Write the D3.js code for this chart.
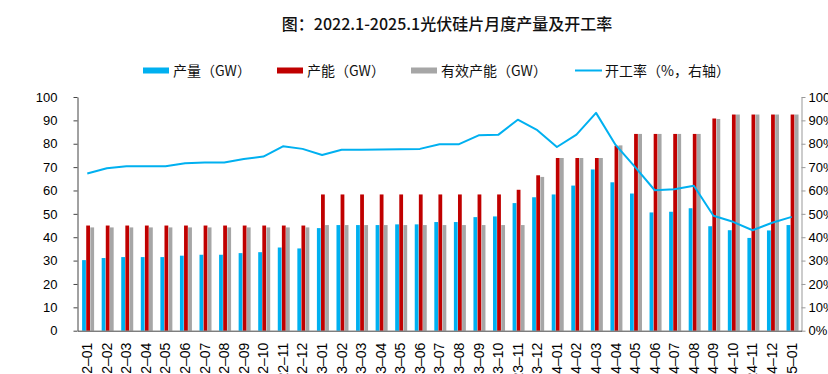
<!DOCTYPE html>
<html lang="zh">
<head>
<meta charset="utf-8">
<title>光伏硅片月度产量及开工率</title>
<script src="https://cdn.jsdelivr.net/npm/d3@7/dist/d3.min.js"></script>
<style>
  body { margin: 0; background: #fff; }
  svg text { font-family: "Liberation Sans", Arial, sans-serif; }
  .cjk { font-family: "Noto Sans CJK SC", sans-serif; }
</style>
</head>
<body>
<svg id="mainsvg" width="828" height="374"></svg>
<script>
  // 月份
  const months = ['2022–01','2022–02','2022–03','2022–04','2022–05','2022–06','2022–07','2022–08','2022–09','2022–10','2022–11','2022–12',
    '2023–01','2023–02','2023–03','2023–04','2023–05','2023–06','2023–07','2023–08','2023–09','2023–10','2023–11','2023–12',
    '2024–01','2024–02','2024–03','2024–04','2024–05','2024–06','2024–07','2024–08','2024–09','2024–10','2024–11','2024–12','2025–01'];
  // 产量（GW）
  const output = [30.2,31.1,31.5,31.5,31.5,32.1,32.5,32.5,33.2,33.6,35.6,35.2,
    43.9,45.2,45.2,45.2,45.5,45.5,46.5,46.5,48.6,48.9,54.6,57.1,
    58.3,62.1,69.0,63.5,58.7,50.6,50.9,52.4,44.7,43.0,39.7,42.9,45.2];
  // 产能（GW）
  const capacity = [45.0,45.0,45.0,45.0,45.0,45.0,45.0,45.0,45.0,45.0,45.0,45.0,
    58.3,58.3,58.3,58.3,58.3,58.3,58.3,58.3,58.3,58.3,60.3,66.5,
    73.9,73.9,73.9,79.1,84.2,84.2,84.2,84.2,90.8,92.5,92.5,92.5,92.5];
  // 有效产能（GW）
  const effCapacity = [44.2,44.2,44.2,44.2,44.2,44.2,44.2,44.2,44.2,44.2,44.2,44.2,
    45.2,45.2,45.2,45.2,45.2,45.2,45.2,45.2,45.2,45.2,45.2,65.8,
    73.9,73.9,73.9,79.3,84.2,84.2,84.2,84.2,90.6,92.5,92.5,92.5,92.5];
  // 开工率（%）
  const rate = [67.3,69.5,70.4,70.4,70.4,71.7,72.0,72.0,73.5,74.5,78.9,77.8,
    75.2,77.4,77.4,77.5,77.6,77.8,79.8,79.8,83.6,83.8,90.3,85.8,
    78.6,83.9,93.2,79.5,70.0,60.1,60.5,62.0,49.2,46.6,43.0,46.2,48.7];
  const leftTicks = [0,10,20,30,40,50,60,70,80,90,100];
  const rightTicks = ['0%','10%','20%','30%','40%','50%','60%','70%','80%','90%','100%'];

  const series = [
    { key: '产量（GW）', values: output, color: '#00B0F0' },
    { key: '产能（GW）', values: capacity, color: '#C00000' },
    { key: '有效产能（GW）', values: effCapacity, color: '#A6A6A6' }
  ];

  const svg = d3.select('#mainsvg');
  const plot = { left: 77.5, right: 801.5, top: 97, bottom: 330.7 };

  // 比例尺
  const x = d3.scaleBand().domain(months).range([plot.left, plot.right]);
  const xSub = d3.scaleBand().domain(series.map(s => s.key)).range([4.6, 16.6]).paddingInner(0.08);
  const y = d3.scaleLinear().domain([0, 100]).range([plot.bottom, plot.top]);
  const yR = d3.scaleLinear().domain([0, 100]).range([plot.bottom, plot.top]);

  // 标题
  svg.append('text').attr('class', 'cjk')
    .attr('x', 447).attr('y', 30)
    .attr('text-anchor', 'middle')
    .attr('font-size', 16).attr('font-weight', 500).attr('fill', '#111')
    .text('图：2022.1-2025.1光伏硅片月度产量及开工率');

  // 柱子
  series.forEach(s => {
    svg.append('g').selectAll('rect').data(s.values).join('rect')
      .attr('x', (d, i) => x(months[i]) + xSub(s.key))
      .attr('width', xSub.bandwidth())
      .attr('y', d => y(d))
      .attr('height', d => y(0) - y(d))
      .attr('fill', s.color);
  });

  // 开工率折线
  const line = d3.line()
    .x((d, i) => x(months[i]) + x.bandwidth() / 2)
    .y(d => yR(d));
  svg.append('path').datum(rate)
    .attr('d', line)
    .attr('fill', 'none')
    .attr('stroke', '#00B0F0')
    .attr('stroke-width', 2)
    .attr('stroke-linejoin', 'round');

  // 左轴
  const gl = svg.append('g').attr('transform', `translate(${plot.left},0)`)
    .call(d3.axisLeft(y).tickValues(leftTicks).tickSize(4).tickPadding(16).tickSizeOuter(0));
  gl.select('.domain').attr('stroke', '#444');
  gl.selectAll('.tick line').attr('stroke', '#444');
  gl.selectAll('.tick text').attr('font-size', 13).attr('fill', '#000')
    .attr('font-family', '"Liberation Sans", Arial, sans-serif');

  // 右轴
  const gr = svg.append('g').attr('transform', `translate(${plot.right},0)`)
    .call(d3.axisRight(yR).tickValues(leftTicks).tickFormat((d, i) => rightTicks[i]).tickSize(4).tickPadding(3).tickSizeOuter(0));
  gr.select('.domain').attr('stroke', '#999');
  gr.selectAll('.tick line').attr('stroke', '#999');
  gr.selectAll('.tick text').attr('font-size', 13).attr('fill', '#000')
    .attr('font-family', '"Liberation Sans", Arial, sans-serif');

  // 底轴
  const gx = svg.append('g').attr('transform', `translate(0,${plot.bottom})`)
    .call(d3.axisBottom(x).tickSize(0).tickSizeOuter(0));
  gx.select('.domain').attr('stroke', '#444');
  gx.selectAll('.tick text')
    .attr('font-size', 14).attr('fill', '#000')
    .attr('font-family', '"Liberation Sans", Arial, sans-serif')
    .attr('transform', 'rotate(-90)')
    .attr('text-anchor', 'end')
    .attr('x', -12).attr('y', 0).attr('dy', '0.35em');

  // 图例
  const legend = [
    { label: '产量（GW）', color: '#00B0F0', x: 143, type: 'rect' },
    { label: '产能（GW）', color: '#C00000', x: 277, type: 'rect' },
    { label: '有效产能（GW）', color: '#A6A6A6', x: 411, type: 'rect' },
    { label: '开工率（%，右轴）', color: '#00B0F0', x: 575, type: 'line' }
  ];
  legend.forEach(l => {
    if (l.type === 'rect') {
      svg.append('rect').attr('x', l.x).attr('y', 67.5).attr('width', 26).attr('height', 6).attr('fill', l.color);
    } else {
      svg.append('line').attr('x1', l.x).attr('x2', l.x + 27).attr('y1', 70.5).attr('y2', 70.5)
        .attr('stroke', l.color).attr('stroke-width', 2);
    }
    svg.append('text').attr('class', 'cjk')
      .attr('x', l.x + 30).attr('y', 75.5)
      .attr('font-size', 14).attr('fill', '#111')
      .text(l.label);
  });
</script>
</body>
</html>
